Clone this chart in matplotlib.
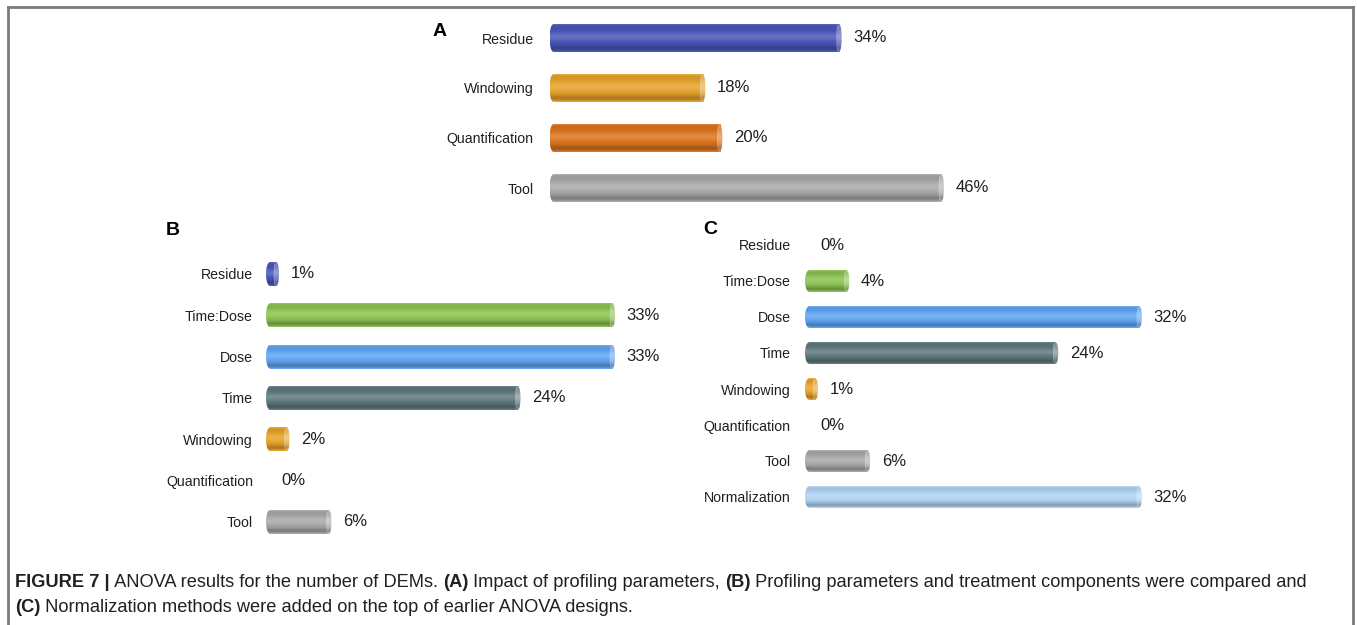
import numpy as np
import matplotlib
matplotlib.use("Agg")
import matplotlib.pyplot as plt
from matplotlib.colors import to_rgb
from matplotlib.patches import Ellipse, Rectangle
from matplotlib.lines import Line2D

plt.rcParams['font.family'] = ['Liberation Sans', 'DejaVu Sans']

# ANOVA variance shares (%) for each design
a_labels = ["Residue", "Windowing", "Quantification", "Tool"]
a_values = [34, 18, 20, 46]

b_labels = ["Residue", "Time:Dose", "Dose", "Time", "Windowing", "Quantification", "Tool"]
b_values = [1, 33, 33, 24, 2, 0, 6]

c_labels = ["Residue", "Time:Dose", "Dose", "Time", "Windowing", "Quantification", "Tool",
            "Normalization"]
c_values = [0, 4, 32, 24, 1, 0, 6, 32]

colors = {
    "Residue": "#4a56b8",
    "Windowing": "#e6a22c",
    "Quantification": "#d9741e",
    "Tool": "#a8a8a8",
    "Time:Dose": "#8cc253",
    "Dose": "#60a4f2",
    "Time": "#5f797e",
    "Normalization": "#b0d2f2",
}

W, H = 1357, 625
fig = plt.figure(figsize=(W / 100, H / 100), dpi=100)
txt_col = "#231f20"


def shade(color, n=80, light=0.0):
    # vertical lighting profile of a cylinder seen from the side
    base = np.array(to_rgb(color))
    base = base + (1 - base) * light
    t = np.linspace(0, 1, n)
    f = (0.92 + 0.24 * np.exp(-((t - 0.45) / 0.17) ** 2)
         - 0.17 * np.exp(-((t - 0.86) / 0.09) ** 2))
    f = f + 0.18 * np.exp(-(t / 0.04) ** 2) + 0.16 * np.exp(-((1 - t) / 0.04) ** 2)
    col = np.where(f[:, None] <= 1, base * f[:, None],
                   base + (1 - base) * (f[:, None] - 1))
    return np.clip(col, 0, 1)[:, None, :]


def panel(left, top, row_px, ppu, xmax, labels, values, bar_h, pad):
    n = len(labels)
    lpad = 2 / ppu
    width = (xmax + lpad) * ppu
    ax = fig.add_axes([(left - 2) / W, 1 - (top + n * row_px) / H, width / W, n * row_px / H])
    ax.patch.set_alpha(0)
    y = np.arange(n)
    cols = [colors[l] for l in labels]
    rects = ax.barh(y, values, height=bar_h, color=cols, linewidth=0, zorder=1)
    rx = 4 / ppu
    for rect, v, c, yi in zip(rects, values, cols, y):
        rect.set_visible(False)
        if v == 0:
            continue
        x0, x1 = rect.get_x(), rect.get_x() + rect.get_width()
        y0, h = rect.get_y(), rect.get_height()
        ext = (x0, x1, y0 + h, y0)
        # body with a rounded left end
        for clip in (Rectangle((x0 + rx, y0), x1 - x0 - rx, h),
                     Ellipse((x0 + rx, yi), 2 * rx, h)):
            clip.set(facecolor='none', edgecolor='none')
            ax.add_patch(clip)
            im = ax.imshow(shade(c), extent=ext, aspect='auto', interpolation='bilinear', zorder=2)
            im.set_clip_path(clip)
        # light stripe just before the flat end
        ax.add_patch(Ellipse((x1 - 1.5 / ppu, yi), 2.5 / ppu, h * 0.9, facecolor='white',
                             edgecolor='none', alpha=0.5, zorder=3))
        rcap = Ellipse((x1, yi), 5 / ppu, h, facecolor='none', edgecolor='none')
        ax.add_patch(rcap)
        cap = ax.imshow(shade(c, light=0.3), extent=(x1 - 3 / ppu, x1 + 3 / ppu, y0 + h, y0),
                        aspect='auto', interpolation='bilinear', zorder=3)
        cap.set_clip_path(rcap)
        ax.annotate(f"{v}%", (x1, yi), xytext=(14, 0), textcoords='offset pixels',
                    va='center', ha='left', fontsize=12, color=txt_col)
    for v, yi in zip(values, y):
        if v == 0:
            ax.annotate("0%", (0, yi), xytext=(15, 0), textcoords='offset pixels',
                        va='center', ha='left', fontsize=12, color=txt_col)
    ax.set_xlim(-lpad, xmax)
    ax.set_ylim(n - 0.5, -0.5)
    ax.set_yticks(y, labels, fontsize=10.2, color=txt_col)
    ax.set_xticks([])
    ax.tick_params(axis='y', length=0, pad=pad)
    for s in ax.spines.values():
        s.set_visible(False)
    return ax


panel(549.5, 13, 50, 8.52, 50, a_labels, a_values, 0.56, 10)
panel(266, 253.3, 41.33, 10.5, 36, b_labels, b_values, 0.58, 8)
panel(805, 227, 36, 10.45, 36, c_labels, c_values, 0.6, 9)

for letter, x, y in [("A", 440, 32), ("B", 173, 231), ("C", 710, 229)]:
    fig.text(x / W, 1 - y / H, letter, fontsize=14, fontweight='bold', ha='center', va='center',
             color='black')

# outer frame, open at the bottom
frame = dict(color="#7a7a7a", linewidth=2, transform=fig.transFigure)
fig.add_artist(Line2D([8 / W, 1353 / W], [1 - 7 / H, 1 - 7 / H], **frame))
fig.add_artist(Line2D([8 / W, 8 / W], [1 - 7 / H, 0], **frame))
fig.add_artist(Line2D([1353 / W, 1353 / W], [1 - 7 / H, 0], **frame))

# caption with bold runs, each piece placed right after the previous one
caption = [
    [("FIGURE 7 |", True), (" ANOVA results for the number of DEMs. ", False), ("(A)", True),
     (" Impact of profiling parameters, ", False), ("(B)", True),
     (" Profiling parameters and treatment components were compared and", False)],
    [("(C)", True), (" Normalization methods were added on the top of earlier ANOVA designs.", False)],
]
cap_size = 13.15
for line, base_y in zip(caption, [587, 612]):
    prev = None
    for s, bold in line:
        kw = dict(fontsize=cap_size, color=txt_col, fontweight='bold' if bold else 'normal',
                  va='bottom', ha='left')
        if prev is None:
            prev = fig.text(15 / W, 1 - (base_y + 4) / H, s, **kw)
        else:
            prev = fig.add_artist(plt.Annotation(s, xy=(1, 0), xycoords=prev, **kw))

fig.savefig("out.png", dpi=100)
